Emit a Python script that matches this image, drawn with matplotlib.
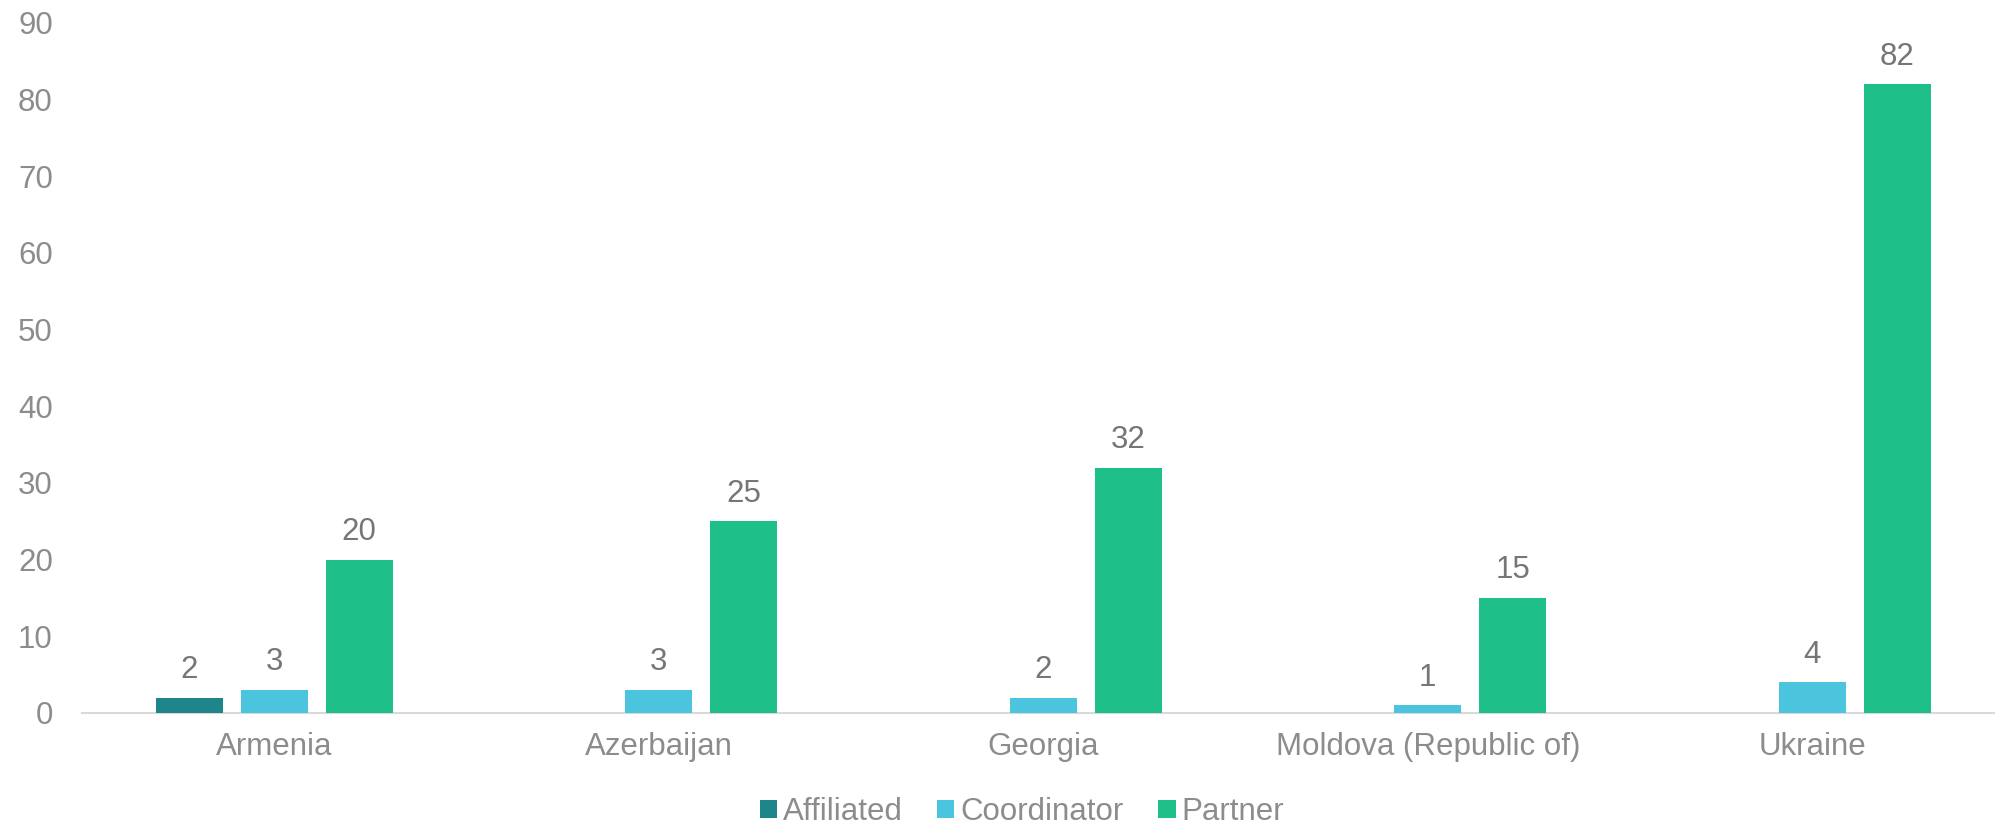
import numpy as np
import matplotlib
matplotlib.use("Agg")
import matplotlib.pyplot as plt

# ---- data ----
countries = ["Armenia", "Azerbaijan", "Georgia", "Moldova (Republic of)", "Ukraine"]
affiliated = [2, np.nan, np.nan, np.nan, np.nan]
coordinator = [3, 3, 2, 1, 4]
partner = [20, 25, 32, 15, 82]
series_names = ["Affiliated", "Coordinator", "Partner"]
colors = ["#1E868A", "#4BC5DE", "#1FBF89"]
yticks = [0, 10, 20, 30, 40, 50, 60, 70, 80, 90]

plt.rcParams['font.family'] = ['Liberation Sans', 'DejaVu Sans']
FS = 22.5
tick_col = "#8C8C8C"
label_col = "#767676"

W, H = 1995, 825
fig = plt.figure(figsize=(W / 100, H / 100), dpi=100)
left_px, right_px, top_px, base_px = 82, 1995, 23, 713
ax = fig.add_axes([left_px / W, 1 - base_px / H, (right_px - left_px) / W, (base_px - top_px) / H])

x = np.arange(len(countries))
pitch_px = 384.5
bw = 67 / pitch_px
off = 85 / pitch_px

for i, (vals, name, col) in enumerate(zip([affiliated, coordinator, partner], series_names, colors)):
    bars = ax.bar(x + (i - 1) * off, vals, width=bw, color=col, label=name, zorder=3)
    ax.bar_label(bars, labels=["" if np.isnan(v) else f"{v:g}" for v in np.asarray(vals, float)],
                 padding=9, fontsize=FS, color=label_col)

ax.set_ylim(0, 90)
ax.set_xlim(-0.5, -0.5 + (right_px - left_px) / pitch_px)
ax.set_yticks(yticks)
ax.set_xticks(x)
ax.set_xticklabels(countries)
for s in ["top", "right", "left"]:
    ax.spines[s].set_visible(False)
ax.spines["bottom"].set_color("#D9D9D9")
ax.spines["bottom"].set_linewidth(1.5)
ax.spines["bottom"].set_zorder(2)
ax.tick_params(axis="y", length=0, pad=21, labelsize=FS, labelcolor=tick_col)
ax.tick_params(axis="x", length=0, pad=14, labelsize=FS, labelcolor=tick_col)

fig.legend(loc="center", bbox_to_anchor=(1022 / W, 1 - 812 / H), ncol=3, frameon=False,
           fontsize=FS, labelcolor=tick_col, handlelength=0.55, handleheight=0.55,
           handletextpad=0.2, columnspacing=1.1, borderpad=0, borderaxespad=0)

fig.savefig("out.png", dpi=100)
